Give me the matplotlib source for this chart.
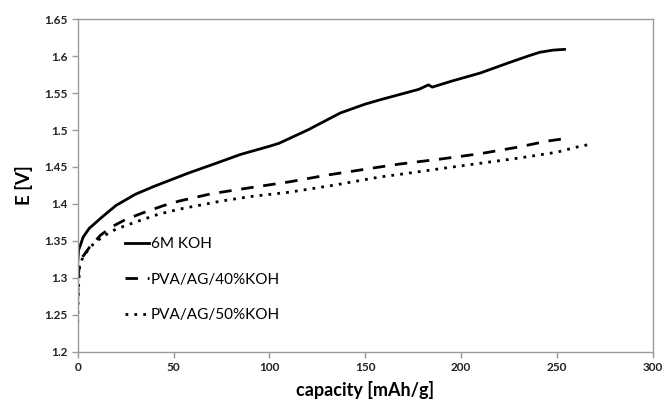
import matplotlib
matplotlib.use("Agg")
import matplotlib.pyplot as plt
import numpy as np

plt.rcParams['font.family'] = ['Lato', 'DejaVu Sans']

# discharge curves, capacity [mAh/g] vs potential E [V]
koh6_x = [0, 0, 0.5, 1.5, 2.8, 6, 13, 20, 30, 40, 48, 58, 70, 85, 100, 105,
          120, 137, 150, 158, 168, 178, 183, 185, 195, 210, 225, 235, 241, 248, 254]
koh6_y = [1.297, 1.32, 1.338, 1.345, 1.355, 1.367, 1.383, 1.398, 1.413, 1.424, 1.432,
          1.442, 1.453, 1.467, 1.478, 1.482, 1.50, 1.523, 1.535, 1.541, 1.548, 1.555,
          1.561, 1.558, 1.566, 1.577, 1.591, 1.600, 1.605, 1.608, 1.609]

pva40_x = [0, 0.3, 1, 3, 6.3, 12, 18.4, 25, 34, 45, 53, 70, 90, 110.6, 130,
           157.6, 168, 190, 210, 230, 245, 253]
pva40_y = [1.27, 1.30, 1.324, 1.33, 1.342, 1.358, 1.370, 1.379, 1.388, 1.398, 1.404,
           1.414, 1.422, 1.430, 1.439, 1.450, 1.454, 1.461, 1.468, 1.477, 1.485, 1.488]

pva50_x = [0, 0.3, 1, 2.8, 7, 13, 20, 30.6, 42, 53, 75, 90, 110.6, 135, 157.6,
           168, 190, 210, 230, 250, 262, 268]
pva50_y = [1.24, 1.28, 1.315, 1.329, 1.343, 1.356, 1.366, 1.376, 1.386, 1.393, 1.404,
           1.410, 1.416, 1.426, 1.4365, 1.44, 1.448, 1.455, 1.462, 1.470, 1.478, 1.481]

labels = ["6M KOH", "PVA/AG/40%KOH", "PVA/AG/50%KOH"]
x_ticks = [0, 50, 100, 150, 200, 250, 300]
y_ticks = [1.2, 1.25, 1.3, 1.35, 1.4, 1.45, 1.5, 1.55, 1.6, 1.65]

fig = plt.figure(figsize=(6.64, 4.05), dpi=100)
ax = fig.add_axes([0.117, 0.131, 0.866, 0.822])

ax.plot(koh6_x, koh6_y, color='black', lw=2.0, label=labels[0])
ax.plot(pva40_x, pva40_y, color='black', lw=2.0, dashes=(4.5, 3.5), label=labels[1])
ax.plot(pva50_x, pva50_y, color='black', lw=2.0, dashes=(1, 2.2), label=labels[2])

ax.set_xlim(0, 300)
ax.set_ylim(1.2, 1.65)
ax.set_xticks(x_ticks)
ax.set_yticks(y_ticks)
ax.set_xticklabels([str(v) for v in x_ticks])
ax.set_yticklabels([f"{v:g}" for v in y_ticks])

for sp in ax.spines.values():
    sp.set_color('#9a9a9a')
    sp.set_linewidth(1.0)
ax.tick_params(direction='out', length=4, width=1, color='#9a9a9a',
               labelsize=8.5, labelcolor='#222222', pad=3)
for t in ax.get_xticklabels() + ax.get_yticklabels():
    t.set_fontweight('bold')

ax.set_xlabel("capacity [mAh/g]", fontsize=13, fontweight='bold', labelpad=6)
ax.set_ylabel("E [V]", fontsize=13.5, fontweight='bold', labelpad=8)

ax.legend(loc='upper left', bbox_to_anchor=(0.082, 0.344), frameon=False,
          fontsize=11, handlelength=1.6, handletextpad=0.1, labelspacing=1.4,
          borderpad=0, borderaxespad=0)

fig.savefig("out.png", dpi=100)
